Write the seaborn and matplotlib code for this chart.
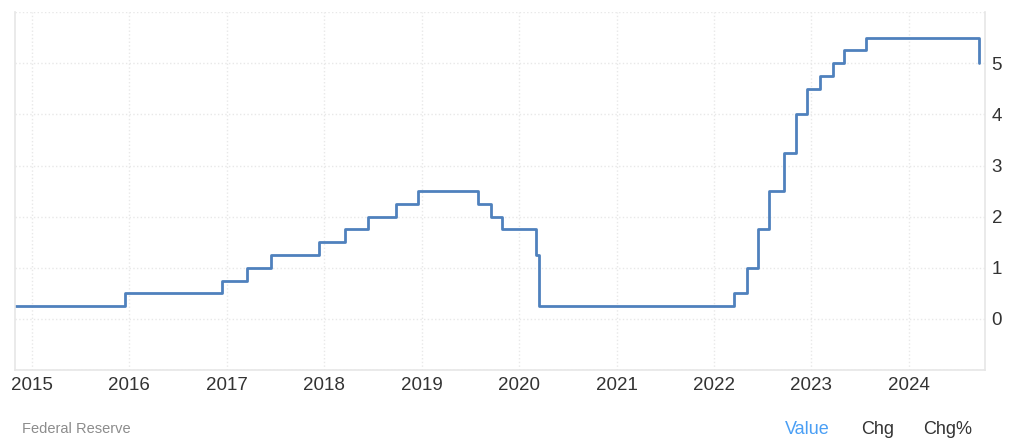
import pandas as pd
import seaborn as sns
import matplotlib.pyplot as plt
import matplotlib.dates as mdates

# fed funds upper bound, step changes
dates = ['2014-11-01', '2015-12-17', '2016-12-15', '2017-03-16', '2017-06-15',
         '2017-12-14', '2018-03-22', '2018-06-14', '2018-09-27', '2018-12-20',
         '2019-08-01', '2019-09-19', '2019-10-31', '2020-03-04', '2020-03-16',
         '2022-03-17', '2022-05-05', '2022-06-16', '2022-07-28', '2022-09-22',
         '2022-11-03', '2022-12-15', '2023-02-02', '2023-03-23', '2023-05-04',
         '2023-07-27', '2024-09-19']
rates = [0.25, 0.50, 0.75, 1.00, 1.25,
         1.50, 1.75, 2.00, 2.25, 2.50,
         2.25, 2.00, 1.75, 1.25, 0.25,
         0.50, 1.00, 1.75, 2.50, 3.25,
         4.00, 4.50, 4.75, 5.00, 5.25,
         5.50, 5.00]
years = list(range(2015, 2025))
yticks = [0, 1, 2, 3, 4, 5]

df = pd.DataFrame({'date': pd.to_datetime(dates), 'rate': rates})

sns.set_style('white')
plt.rcParams['font.family'] = ['Liberation Sans', 'DejaVu Sans']

fig = plt.figure(figsize=(10.24, 4.48), dpi=100)
ax = fig.add_axes([0.0146, 0.174, 0.947, 0.799])

sns.lineplot(data=df, x='date', y='rate', ax=ax, drawstyle='steps-post',
             color='#4f81bd', linewidth=2)

ax.set_xlim(pd.Timestamp('2014-10-30'), pd.Timestamp('2024-10-12'))
ax.set_ylim(-1, 6)
ax.set_xticks([pd.Timestamp(f'{y}-01-01') for y in years])
ax.xaxis.set_major_formatter(mdates.DateFormatter('%Y'))
ax.set_yticks(range(-1, 7))
ax.set_yticklabels(['' if v not in yticks else str(v) for v in range(-1, 7)])
ax.yaxis.tick_right()
ax.tick_params(axis='both', length=0, labelsize=13.5, colors='#333333')
ax.tick_params(axis='x', pad=5)
ax.tick_params(axis='y', pad=5)
ax.grid(True, color='#e8e8e8', linestyle=':', linewidth=1)
ax.set_xlabel('')
ax.set_ylabel('')
ax.spines['top'].set_visible(False)
for s in ['left', 'right', 'bottom']:
    ax.spines[s].set_color('#e6e6e6')
    ax.spines[s].set_linewidth(1.2)

fig.text(0.0215, 0.033, 'Federal Reserve', fontsize=10.5, color='#8c8c8c')
fig.text(0.788, 0.031, 'Value', fontsize=13, color='#4a9ff5', ha='center')
fig.text(0.857, 0.031, 'Chg', fontsize=13, color='#333333', ha='center')
fig.text(0.925, 0.031, 'Chg%', fontsize=13, color='#333333', ha='center')

fig.savefig('out.png', dpi=100, facecolor='white')
